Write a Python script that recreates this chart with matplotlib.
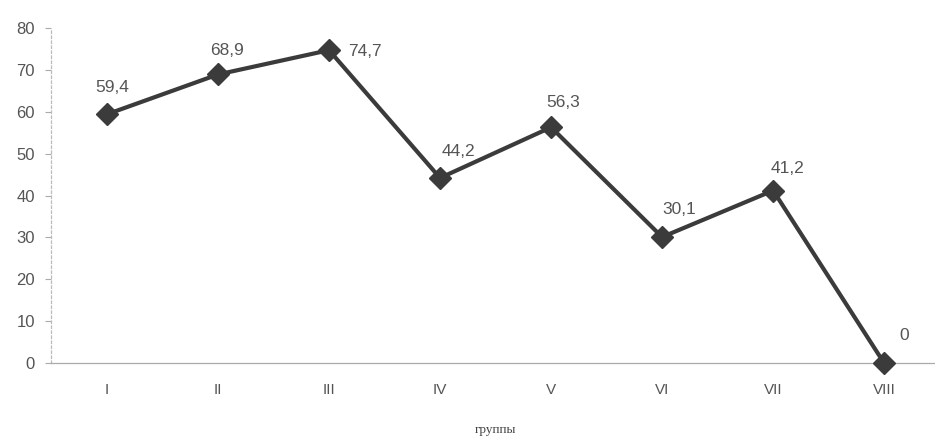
import matplotlib.pyplot as plt

# data
groups = ['I', 'II', 'III', 'IV', 'V', 'VI', 'VII', 'VIII']
values = [59.4, 68.9, 74.7, 44.2, 56.3, 30.1, 41.2, 0]
labels = ['59,4', '68,9', '74,7', '44,2', '56,3', '30,1', '41,2', '0']

# label offsets in points (dx, dy) and alignment
offsets = [(4, 19), (6.5, 17), (14, -1), (1, 19), (9, 18), (0, 20), (10, 16), (11, 20)]
aligns = ['center', 'center', 'left', 'left', 'center', 'left', 'center', 'left']

plt.rcParams['font.family'] = ['Liberation Sans', 'DejaVu Sans']

fig = plt.figure(figsize=(9.35, 4.37), dpi=100)
ax = fig.add_axes([0.055, 0.169, 0.95, 0.767])

x = range(len(groups))
ax.plot(x, values, color='#3b3b3b', linewidth=3.0, marker='D',
        markersize=11, markerfacecolor='#3b3b3b', markeredgecolor='#3b3b3b',
        clip_on=False, zorder=3)

for i, (v, lab) in enumerate(zip(values, labels)):
    dx, dy = offsets[i]
    ax.annotate(lab, (i, v), xytext=(dx, dy), textcoords='offset points',
                ha=aligns[i], va='center', fontsize=12.5, color='#555555')

ax.set_xlim(-0.5, 7.5)
ax.set_ylim(0, 80)
ax.set_yticks(range(0, 81, 10))
ax.set_xticks(list(x))
ax.set_xticklabels(groups, fontsize=11, color='#555555')
ax.tick_params(axis='y', labelsize=12, labelcolor='#555555', color='#aaaaaa',
               length=4, width=0.8, pad=8)
ax.tick_params(axis='x', length=0, pad=14)

for side in ['top', 'right']:
    ax.spines[side].set_visible(False)
ax.spines['left'].set_color('#bbbbbb')
ax.spines['left'].set_linestyle((0, (2, 2)))
ax.spines['bottom'].set_color('#aaaaaa')
ax.spines['left'].set_linewidth(0.9)
ax.spines['bottom'].set_linewidth(0.9)

ax.set_xlabel('группы', fontsize=9.5, family=['Liberation Serif', 'DejaVu Serif'],
              color='#444444', labelpad=20)

fig.savefig('out.png', dpi=100)
